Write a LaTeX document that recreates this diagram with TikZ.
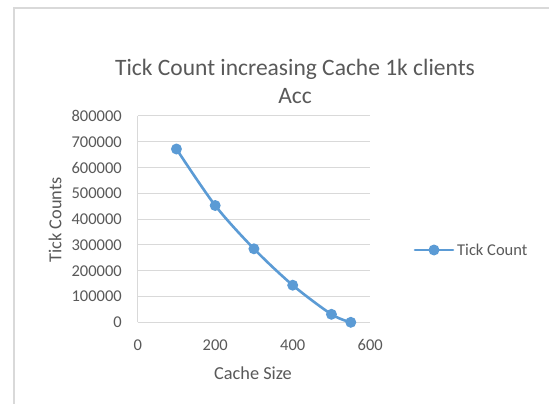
\documentclass[tikz,border=0pt]{standalone}
\usepackage{fontspec}
\setmainfont{Carlito}
\definecolor{txt}{HTML}{595959}
\definecolor{grid}{HTML}{D9D9D9}
\definecolor{ser}{HTML}{5B9BD5}
\definecolor{frame}{HTML}{D9D9D9}
\begin{document}
\begin{tikzpicture}[x=1pt,y=-1pt,
  ticklbl/.style={text=txt,font=\fontsize{16.5}{19}\selectfont,inner sep=0pt},
  axtitle/.style={text=txt,font=\fontsize{18.3}{22}\selectfont,inner sep=0pt},
  gridline/.style={draw=grid,line width=1pt},
  series/.style={draw=ser,line width=2.6pt,line cap=round,line join=round},
  dot/.style={circle,fill=ser,inner sep=0pt,minimum size=11pt}]
\useasboundingbox (0,0) rectangle (549,404);
\fill[white] (0,0) rectangle (549,404);
% chart frame
\draw[frame,line width=1.5pt] (14,404) -- (14,8) -- (549,8);
% title
\node[text=txt,font=\fontsize{23.5}{28}\selectfont,align=center,inner sep=0pt] (title) at (295,81) {Tick Count increasing Cache 1k clients\\Acc};
% gridlines
\foreach \k/\lab in {0/0,1/100000,2/200000,3/300000,4/400000,5/500000,6/600000,7/700000,8/800000}{
  \coordinate (gl\k) at (137.7,{322.3-\k*25.79});
  \coordinate (gr\k) at (370,{322.3-\k*25.79});
  \draw[gridline] (gl\k) -- (gr\k);
  \node[ticklbl,anchor=east] (yl\k) at (122,{322.3-\k*25.79}) {\lab};
}
\draw[gridline] (gl0) -- (gl8);
% x tick labels
\foreach \v in {0,200,400,600}{
  \node[ticklbl] (xl\v) at ({137.7+\v*0.3875},345) {\v};
}
% axis titles
\node[axtitle] (xt) at (253,373) {Cache Size};
\node[axtitle,rotate=90] (yt) at (55,220) {Tick Counts};
% data
\coordinate (p1) at (176.45,149.0);
\coordinate (p2) at (215.2,205.5);
\coordinate (p3) at (253.95,248.8);
\coordinate (p4) at (292.7,285.2);
\coordinate (p5) at (331.45,314.3);
\coordinate (p6) at (350.8,322.3);
\draw[series] plot[smooth,tension=0.5] coordinates {(p1) (p2) (p3) (p4) (p5) (p6)};
\foreach \i in {1,...,6}{\node[dot] (m\i) at (p\i) {};}
% legend
\coordinate (la) at (415,250);
\coordinate (lb) at (453,250);
\draw[series] (la) -- (lb);
\node[dot] (lm) at (434,250) {};
\node[ticklbl,anchor=west] (lt) at (457,250) {Tick Count};
\end{tikzpicture}
\end{document}
